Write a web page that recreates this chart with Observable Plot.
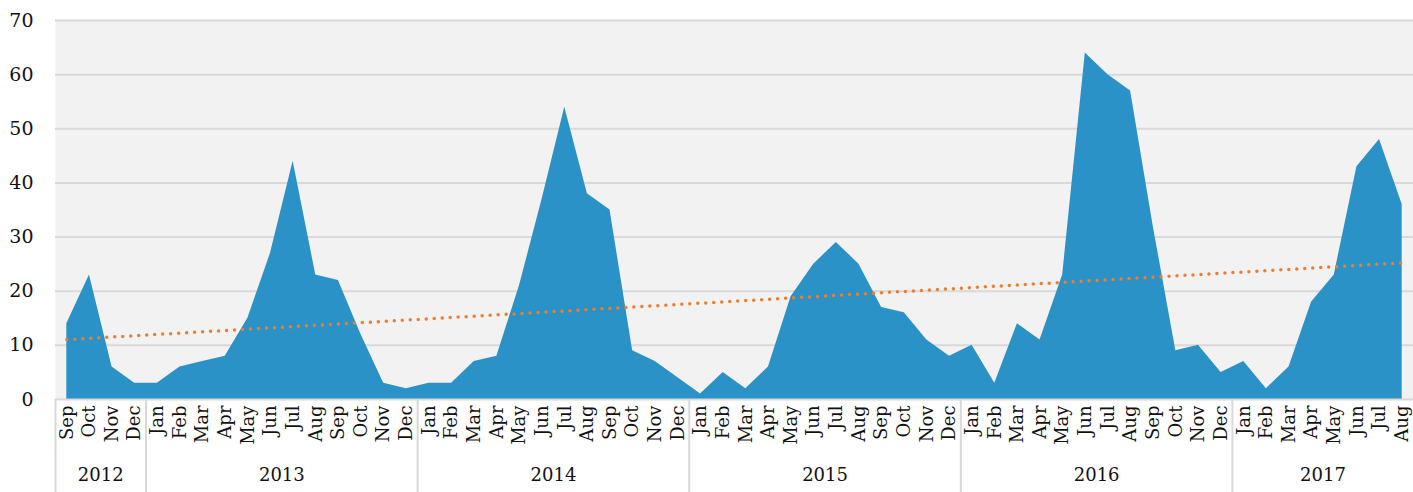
<!DOCTYPE html>
<html>
<head>
<meta charset="utf-8">
<script src="https://cdn.jsdelivr.net/npm/d3@7"></script>
<script src="https://cdn.jsdelivr.net/npm/@observablehq/plot@0.6"></script>
<style>
  html, body { margin: 0; padding: 0; background: #fff; }
  #chart svg { display: block; }
</style>
</head>
<body>
<div id="chart"></div>
<script>
// Month labels (Sep 2012 – Aug 2017)
const months = ["Sep","Oct","Nov","Dec",
  "Jan","Feb","Mar","Apr","May","Jun","Jul","Aug","Sep","Oct","Nov","Dec",
  "Jan","Feb","Mar","Apr","May","Jun","Jul","Aug","Sep","Oct","Nov","Dec",
  "Jan","Feb","Mar","Apr","May","Jun","Jul","Aug","Sep","Oct","Nov","Dec",
  "Jan","Feb","Mar","Apr","May","Jun","Jul","Aug","Sep","Oct","Nov","Dec",
  "Jan","Feb","Mar","Apr","May","Jun","Jul","Aug"];

const values = [14,23,6,3,
  3,6,7,8,15,27,44,23,22,12,3,2,
  3,3,7,8,21,37,54,38,35,9,7,4,
  1,5,2,6,19,25,29,25,17,16,11,8,
  10,3,14,11,23,64,60,57,32,9,10,5,
  7,2,6,18,23,43,48,36];

// Year groups: label, first month index, last month index
const years = ["2012","2013","2014","2015","2016","2017"];
const yearStart = [0,4,16,28,40,52];
const yearEnd = [3,15,27,39,51,59];

const yTicks = [0,10,20,30,40,50,60,70];

const data = values.map((v, i) => ({i, v, m: months[i]}));
const yearData = years.map((y, k) => ({year: y, mid: (yearStart[k] + yearEnd[k]) / 2}));
const separators = yearStart.map(s => s - 0.5);

const chart = Plot.plot({
  width: 1413,
  height: 492,
  marginLeft: 55,
  marginRight: 0,
  marginTop: 20,
  marginBottom: 93,
  style: {fontFamily: "'DejaVu Serif', serif", fontSize: "18px", color: "#111", background: "#fff"},
  x: {type: "linear", domain: [-0.5, values.length - 0.5]},
  y: {domain: [0, 70]},
  marks: [
    Plot.frame({fill: "#f2f2f2", stroke: null}),
    Plot.gridY(yTicks.slice(1), {stroke: "#d9d9d9", strokeOpacity: 1, strokeWidth: 2}),
    Plot.areaY(data, {x: "i", y: "v", fill: "#2a92c6"}),
    Plot.ruleY([0], {stroke: "#d9d9d9", strokeWidth: 2}),
    Plot.linearRegressionY(data, {x: "i", y: "v", ci: 0, stroke: "#ed7d31", strokeWidth: 3.5, strokeDasharray: "0 8", strokeLinecap: "round"}),
    Plot.axisY({ticks: yTicks, tickSize: 0, tickPadding: 22, fontSize: 19, label: null}),
    Plot.axisX({ticks: d3.range(values.length), tickFormat: i => months[i], tickRotate: -90, tickSize: 0, tickPadding: 6, label: null}),
    Plot.ruleX(separators, {y1: 0, y2: -17.5, stroke: "#d9d9d9", strokeWidth: 2}),
    Plot.text(yearData, {x: "mid", text: "year", frameAnchor: "bottom", dy: 81, fontSize: 18, fill: "#111"})
  ]
});
document.getElementById("chart").appendChild(chart);
</script>
</body>
</html>
